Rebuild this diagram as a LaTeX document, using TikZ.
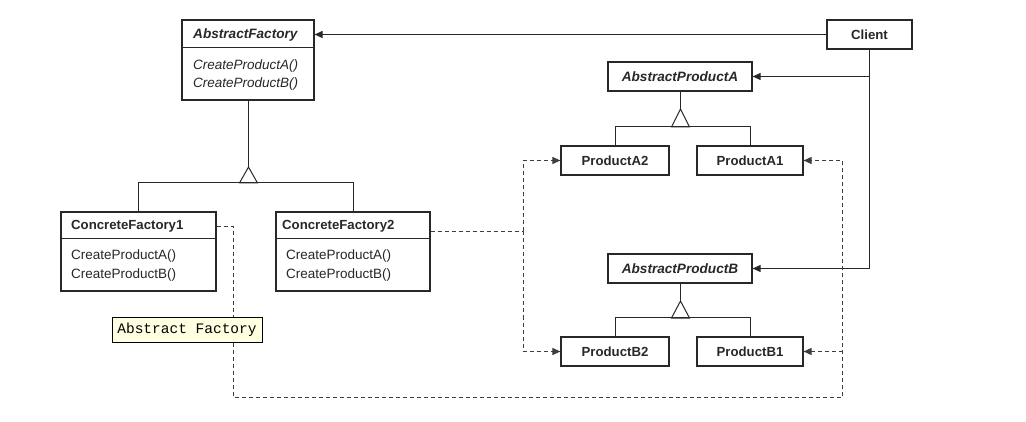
\documentclass[tikz,border=0pt]{standalone}
\usepackage{fontspec}
\setmainfont{Liberation Sans}
\newfontfamily\notefont{Liberation Mono}
\usetikzlibrary{arrows.meta}
\definecolor{notebg}{RGB}{255,255,225}
\definecolor{ink}{RGB}{40,40,40}
\begin{document}
\begin{tikzpicture}[x=1pt,y=-1pt,
  box/.style={draw=ink, line width=1.2pt, inner sep=0pt, fill=white},
  ln/.style={draw=ink, line width=1pt},
  dsh/.style={draw=ink!90, line width=1pt, dash pattern=on 4pt off 3pt},
  tip/.style={-{Triangle[length=8pt,width=7pt]}},
  ttl/.style={font=\fontsize{13.2}{15}\selectfont\bfseries, inner sep=0pt, text=ink},
  ittl/.style={font=\fontsize{13.6}{15}\selectfont\bfseries\itshape, inner sep=0pt, text=ink},
  mth/.style={font=\fontsize{13.5}{15}\selectfont, inner sep=0pt, text=ink, anchor=west},
  imth/.style={font=\fontsize{13.5}{15}\selectfont\itshape, inner sep=0pt, text=ink, anchor=west},
  note/.style={draw=black, line width=1pt, fill=notebg, inner sep=0pt, font=\notefont\fontsize{14.5}{16}\selectfont}
]
\fill[white] (0,0) rectangle (1026,422);
\useasboundingbox (0,0) rectangle (1026,422);

% ---------- class boxes ----------
\node[box, minimum width=132pt, minimum height=80pt] (af) at (248,60) {};
\draw[ln] ([yshift=-28pt]af.north west) -- ([yshift=-28pt]af.north east);
\node[ittl, anchor=west] (aft) at (193,35) {AbstractFactory};
\node[imth] (afm1) at (193,66) {CreateProductA()};
\node[imth] (afm2) at (193,84) {CreateProductB()};

\node[box, minimum width=155pt, minimum height=79pt] (cf1) at (138.5,251.5) {};
\draw[ln] ([yshift=-27pt]cf1.north west) -- ([yshift=-27pt]cf1.north east);
\node[ttl, anchor=west] (cf1t) at (71,226.5) {ConcreteFactory1};
\node[mth] (cf1m1) at (71,256) {CreateProductA()};
\node[mth] (cf1m2) at (71,275) {CreateProductB()};

\node[box, minimum width=154pt, minimum height=79pt] (cf2) at (353,251.5) {};
\draw[ln] ([yshift=-27pt]cf2.north west) -- ([yshift=-27pt]cf2.north east);
\node[ttl, anchor=west] (cf2t) at (282,226.5) {ConcreteFactory2};
\node[mth] (cf2m1) at (286,256) {CreateProductA()};
\node[mth] (cf2m2) at (286,275) {CreateProductB()};

\node[box, ttl, minimum width=85pt, minimum height=29pt] (client) at (869.5,34.5) {Client};

\node[box, ittl, minimum width=144pt, minimum height=29pt] (apa) at (680,76.5) {AbstractProductA};
\node[box, ttl, minimum width=108pt, minimum height=29pt] (pa2) at (615,160.5) {ProductA2};
\node[box, ttl, minimum width=106pt, minimum height=29pt] (pa1) at (750,160.5) {ProductA1};

\node[box, ittl, minimum width=144pt, minimum height=29pt] (apb) at (680,268.5) {AbstractProductB};
\node[box, ttl, minimum width=108pt, minimum height=29pt] (pb2) at (615,351.5) {ProductB2};
\node[box, ttl, minimum width=106pt, minimum height=29pt] (pb1) at (750,351.5) {ProductB1};

% ---------- associations ----------
\draw[ln,tip] (client.west) -- (client.west -| af.east);
\draw[ln,tip] (client.south) |- (apa.east);
\draw[ln,tip] (client.south) |- (apb.east);

% ---------- inheritance ----------
\coordinate (afI) at (248.5,167);
\draw[ln] (af.south -| afI) -- (afI);
\draw[ln] (afI) -- ++(-9,16) -- ++(18,0) -- cycle;
\draw[ln] (cf1.north) -- ++(0,-29) -| (cf2.north);

\coordinate (paI) at (680.5,109);
\draw[ln] (apa.south -| paI) -- (paI);
\draw[ln] (paI) -- ++(-9,18) -- ++(18,0) -- cycle;
\draw[ln] (pa2.north -| 615.5,0) -- ++(0,-19) -| (pa1.north -| 750.5,0);

\coordinate (pbI) at (680.5,301);
\draw[ln] (apb.south -| pbI) -- (pbI);
\draw[ln] (pbI) -- ++(-9,17) -- ++(18,0) -- cycle;
\draw[ln] (pb2.north -| 615.5,0) -- ++(0,-19) -| (pb1.north -| 750.5,0);

% ---------- dependencies ----------
\coordinate (j1) at (233.5,226.5);
\coordinate (br) at (842.5,397.5);
\draw[dsh,tip] (j1 -| cf1.east) -- (j1) |- (br) |- (pa1.east);
\draw[dsh,tip] (br |- pb1.east) -- (pb1.east);

\coordinate (j2) at (523.5,231.5);
\draw[dsh] (j2 -| cf2.east) -- (j2);
\draw[dsh,tip] (j2) |- (pa2.west);
\draw[dsh,tip] (j2) |- (pb2.west);

% ---------- note ----------
\node[note, minimum width=150pt, minimum height=25pt] (nt) at (187,329.5) {Abstract Factory};
\end{tikzpicture}
\end{document}
